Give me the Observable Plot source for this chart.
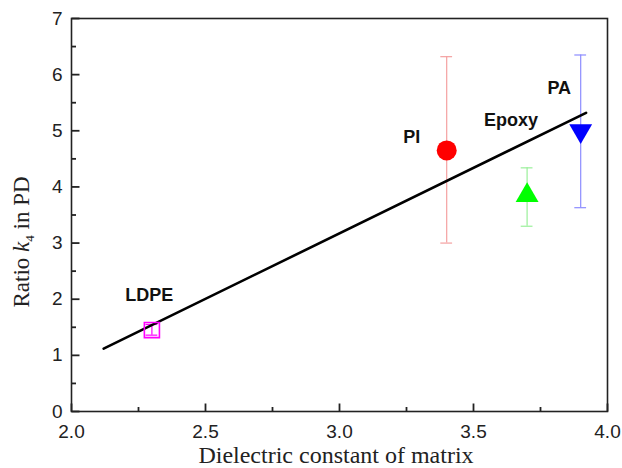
<!DOCTYPE html>
<html><head><meta charset="utf-8">
<script src="https://cdn.jsdelivr.net/npm/d3@7"></script>
<script src="https://cdn.jsdelivr.net/npm/@observablehq/plot@0.6"></script>
<style>body{margin:0;background:#fff}</style>
</head><body><div id="chart"></div>
<script>
// ---- data ----
const materials = ["LDPE", "PI", "Epoxy", "PA"];
const dielectric = [2.3, 3.4, 3.7, 3.9];
const ratio = [1.45, 4.65, 3.85, 5.0];
const errLow = [1.36, 3.0, 3.3, 3.63];
const errHigh = [1.55, 6.32, 4.34, 6.35];
const labelX = [2.29, 3.27, 3.64, 3.82];
const labelY = [2.07, 4.88, 5.18, 5.75];
const fitX = [2.12, 3.92];
const fitY = [1.12, 5.32];
const xTicks = [2.0, 2.5, 3.0, 3.5, 4.0];
const xMinor = [2.25, 2.75, 3.25, 3.75];
const yTicks = [0, 1, 2, 3, 4, 5, 6, 7];
const yMinor = [0.5, 1.5, 2.5, 3.5, 4.5, 5.5, 6.5];

const data = materials.map((m, i) => ({material: m, x: dielectric[i], y: ratio[i], lo: errLow[i], hi: errHigh[i]}));
const labels = materials.map((m, i) => ({material: m, x: labelX[i], y: labelY[i]}));
const fit = fitX.map((x, i) => ({x, y: fitY[i]}));

const markerColor = {LDPE: "#ff00ff", PI: "#ff0000", Epoxy: "#00ff00", PA: "#0000ff"};
const barColor = {LDPE: "#ff00ff", PI: "#f4a0a0", Epoxy: "#9af09a", PA: "#8c8cff"};
const cap = 0.022;
const tickFont = "'Liberation Sans', Arial, sans-serif";

// inward tick segments, lengths converted from px to data units
const pxY = 393 / 7, pxX = 536 / 2;
const xTickSegs = [
  ...xTicks.map(v => ({x1: v, x2: v, y1: 0, y2: 8 / pxY})),
  ...xMinor.map(v => ({x1: v, x2: v, y1: 0, y2: 4.5 / pxY}))
];
const yTickSegs = [
  ...yTicks.map(v => ({x1: 2.0, x2: 2.0 + 8 / pxX, y1: v, y2: v})),
  ...yMinor.map(v => ({x1: 2.0, x2: 2.0 + 4.5 / pxX, y1: v, y2: v}))
];

const chart = Plot.plot({
  width: 622,
  height: 468,
  marginLeft: 71,
  marginRight: 15,
  marginTop: 18,
  marginBottom: 57,
  style: {fontFamily: tickFont, fontSize: "19px", color: "#222", background: "#fff"},
  x: {domain: [2.0, 4.0]},
  y: {domain: [0, 7]},
  marks: [
    // tick labels
    Plot.axisX({ticks: xTicks, tickFormat: d3.format(".1f"), tickSize: 0, tickPadding: 13, label: null, fontSize: 19}),
    Plot.axisY({ticks: yTicks, tickFormat: d3.format("d"), tickSize: 0, tickPadding: 9, label: null, fontSize: 19}),
    Plot.frame({stroke: "#222", strokeWidth: 1.6}),
    // inward ticks
    Plot.link(xTickSegs, {x1: "x1", x2: "x2", y1: "y1", y2: "y2", stroke: "#222", strokeWidth: 1.8}),
    Plot.link(yTickSegs, {x1: "x1", x2: "x2", y1: "y1", y2: "y2", stroke: "#222", strokeWidth: 1.8}),
    // error bars
    Plot.ruleX(data, {x: "x", y1: "lo", y2: "hi", stroke: d => barColor[d.material], strokeWidth: 1.2}),
    Plot.ruleY(data, {y: "lo", x1: d => d.x - cap, x2: d => d.x + cap, stroke: d => barColor[d.material], strokeWidth: 1.2}),
    Plot.ruleY(data, {y: "hi", x1: d => d.x - cap, x2: d => d.x + cap, stroke: d => barColor[d.material], strokeWidth: 1.2}),
    // fit line
    Plot.line(fit, {x: "x", y: "y", stroke: "#000", strokeWidth: 2.6}),
    // markers
    Plot.dot(data.filter(d => d.material === "LDPE"), {x: "x", y: "y", symbol: "square", r: 8.5, stroke: markerColor.LDPE, fill: "none", strokeWidth: 1.6}),
    Plot.dot(data.filter(d => d.material === "PI"), {x: "x", y: "y", symbol: "circle", r: 10, fill: markerColor.PI, stroke: "none"}),
    Plot.dot(data.filter(d => d.material === "Epoxy"), {x: "x", y: "y", symbol: "triangle", r: 8.5, fill: markerColor.Epoxy, stroke: "none"}),
    Plot.dot(data.filter(d => d.material === "PA"), {x: "x", y: "y", symbol: "triangle", rotate: 180, r: 8.5, fill: markerColor.PA, stroke: "none"}),
    // labels
    Plot.text(labels, {x: "x", y: "y", text: "material", fontWeight: "bold", fontSize: 18, fill: "#111"})
  ]
});

const svg = d3.select(chart);
svg.append("text")
  .attr("x", 336).attr("y", 463)
  .attr("text-anchor", "middle")
  .style("font-family", "'Liberation Serif', 'Times New Roman', serif")
  .style("font-size", "24px").attr("fill", "#222")
  .text("Dielectric constant of matrix");
const yl = svg.append("text")
  .attr("transform", "translate(29,242) rotate(-90)")
  .attr("text-anchor", "middle")
  .style("font-family", "'Liberation Serif', 'Times New Roman', serif")
  .style("font-size", "23px").attr("fill", "#222");
yl.append("tspan").text("Ratio ");
yl.append("tspan").attr("font-style", "italic").text("k");
yl.append("tspan").attr("font-size", "13px").attr("dy", "5").text("4");
yl.append("tspan").attr("dy", "-5").text(" in PD");

document.getElementById("chart").appendChild(chart);
</script>
</body></html>
